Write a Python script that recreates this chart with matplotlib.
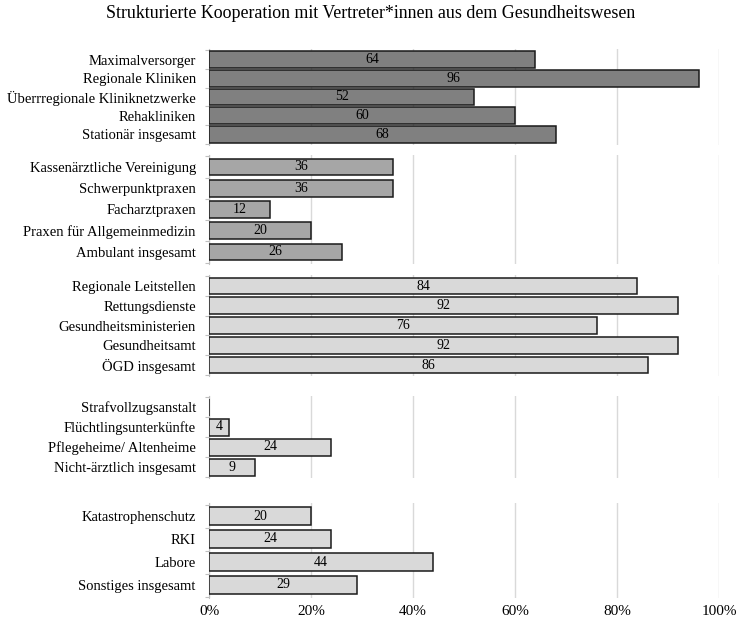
import matplotlib
matplotlib.use("Agg")
import matplotlib.pyplot as plt
from matplotlib.ticker import FixedLocator

plt.rcParams['font.family'] = ['Liberation Serif', 'DejaVu Serif']

title = "Strukturierte Kooperation mit Vertreter*innen aus dem Gesundheitswesen"

g1_labels = ["Maximalversorger", "Regionale Kliniken", "Überrregionale Kliniknetzwerke",
             "Rehakliniken", "Stationär insgesamt"]
g1_values = [64, 96, 52, 60, 68]

g2_labels = ["Kassenärztliche Vereinigung", "Schwerpunktpraxen", "Facharztpraxen",
             "Praxen für Allgemeinmedizin", "Ambulant insgesamt"]
g2_values = [36, 36, 12, 20, 26]

g3_labels = ["Regionale Leitstellen", "Rettungsdienste", "Gesundheitsministerien",
             "Gesundheitsamt", "ÖGD insgesamt"]
g3_values = [84, 92, 76, 92, 86]

g4_labels = ["Strafvollzugsanstalt", "Flüchtlingsunterkünfte", "Pflegeheime/ Altenheime",
             "Nicht-ärztlich insgesamt"]
g4_values = [0, 4, 24, 9]

g5_labels = ["Katastrophenschutz", "RKI", "Labore", "Sonstiges insgesamt"]
g5_values = [20, 24, 44, 29]

x_ticks = [0, 20, 40, 60, 80, 100]
x_ticklabels = ["0%", "20%", "40%", "60%", "80%", "100%"]

groups = [
    (g1_labels, g1_values, "#808080"),
    (g2_labels, g2_values, "#a6a6a6"),
    (g3_labels, g3_values, "#d9d9d9"),
    (g4_labels, g4_values, "#d9d9d9"),
    (g5_labels, g5_values, "#d9d9d9"),
]

# layout in pixels: (first centre, spacing, bar height fraction)
layout = [
    (59.5, 18.75, 0.90),
    (167.0, 21.25, 0.78),
    (286.0, 19.75, 0.86),
    (407.0, 20.0, 0.85),
    (516.0, 23.0, 0.78),
]

W, H = 742, 618
fig = plt.figure(figsize=(W / 100, H / 100), dpi=100)
x0, x1 = 209, 719

fig.text(0.5, 1 - 13 / H, title, ha='center', va='center', fontsize=12.9)

for gi, ((labels, values, color), (c0, sp, bh)) in enumerate(zip(groups, layout)):
    n = len(labels)
    top = c0 - 0.55 * sp
    bottom = c0 + (n - 1) * sp + 0.55 * sp
    ax = fig.add_axes([x0 / W, 1 - bottom / H, (x1 - x0) / W, (bottom - top) / H])
    pos = list(range(n))
    ax.barh(pos, values, height=bh, color=color, edgecolor='#1a1a1a',
            linewidth=1.1, zorder=3)
    for p, v in zip(pos, values):
        if v > 0:
            ax.text(v / 2, p, str(v), ha='center', va='center', fontsize=10, zorder=4)
    ax.set_xlim(0, 100)
    ax.set_ylim(n - 1 + 0.55, -0.55)
    ax.set_yticks(pos)
    ax.set_yticklabels(labels, fontsize=10.5)
    ax.tick_params(axis='y', length=0, pad=9.5)
    ax.yaxis.set_minor_locator(FixedLocator([p + 0.5 for p in range(-1, n)]))
    ax.tick_params(axis='y', which='minor', length=3, color='#bfbfbf', width=0.8)
    ax.set_xticks(x_ticks)
    ax.grid(axis='x', color='#d9d9d9', linewidth=1.0, zorder=0)
    for s in ['top', 'right', 'bottom']:
        ax.spines[s].set_visible(False)
    ax.spines['left'].set_color('#bfbfbf')
    ax.spines['left'].set_linewidth(0.8)
    if gi == len(groups) - 1:
        ax.set_xticklabels(x_ticklabels, fontsize=11)
        ax.tick_params(axis='x', length=0, pad=5)
    else:
        ax.tick_params(axis='x', length=0, labelbottom=False)

fig.savefig("out.png", dpi=100)
